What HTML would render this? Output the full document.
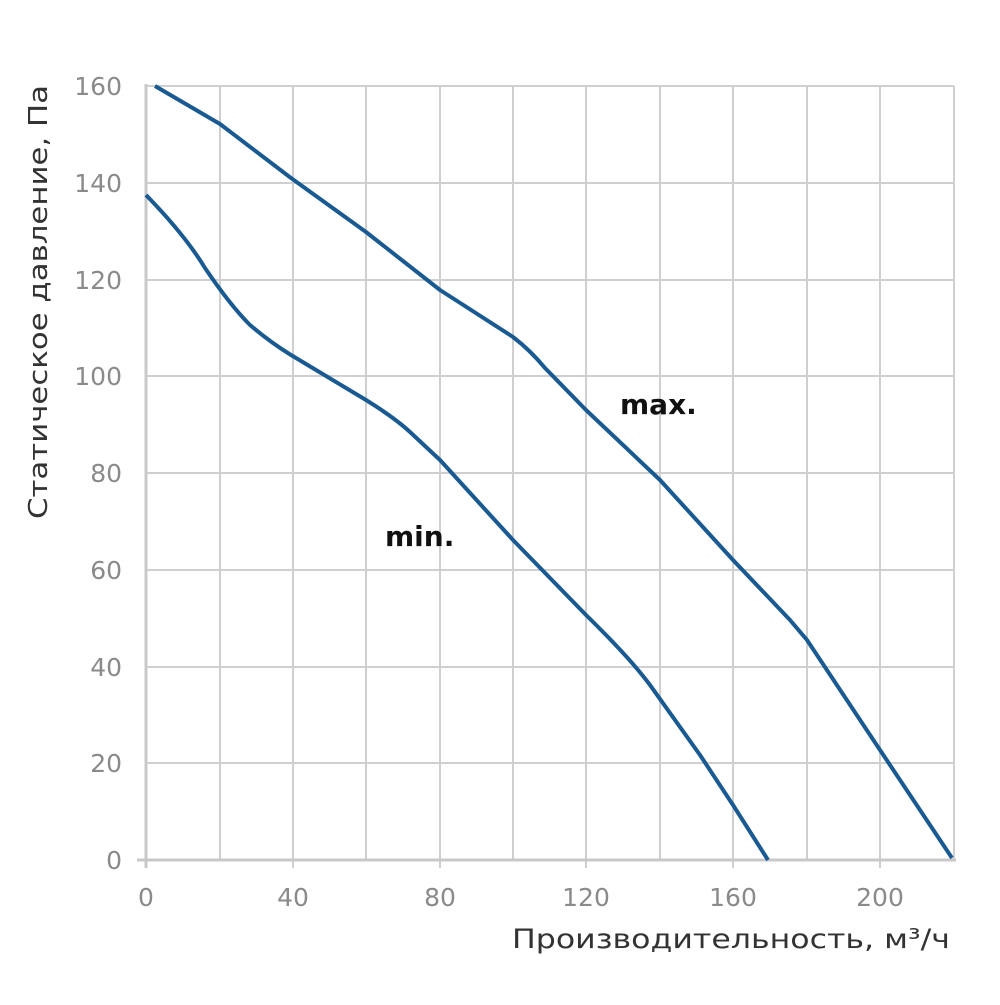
<!DOCTYPE html><html><head><style>body{margin:0;background:#fff}</style></head><body>
<svg width="1000" height="1000" xmlns="http://www.w3.org/2000/svg" font-family="DejaVu Sans, Liberation Sans, sans-serif">
<g stroke="#cfcfcf" stroke-width="2">
<line x1="220" y1="86" x2="220" y2="860"/><line x1="293" y1="86" x2="293" y2="868"/><line x1="366" y1="86" x2="366" y2="860"/><line x1="440" y1="86" x2="440" y2="868"/><line x1="513" y1="86" x2="513" y2="860"/><line x1="586" y1="86" x2="586" y2="868"/><line x1="660" y1="86" x2="660" y2="860"/><line x1="733" y1="86" x2="733" y2="868"/><line x1="807" y1="86" x2="807" y2="860"/><line x1="880" y1="86" x2="880" y2="868"/><line x1="954" y1="86" x2="954" y2="860"/>
<line x1="146" y1="86" x2="954" y2="86"/><line x1="146" y1="183" x2="954" y2="183"/><line x1="146" y1="280" x2="954" y2="280"/><line x1="146" y1="376" x2="954" y2="376"/><line x1="146" y1="473" x2="954" y2="473"/><line x1="146" y1="570" x2="954" y2="570"/><line x1="146" y1="667" x2="954" y2="667"/><line x1="146" y1="763" x2="954" y2="763"/>
</g>
<g stroke="#c8c8c8" stroke-width="3"><line x1="146" y1="84" x2="146" y2="868"/><line x1="137" y1="860" x2="956" y2="860"/></g>
<g fill="#8a8a8a" font-size="25" text-anchor="end">
<text x="122" y="95">160</text><text x="122" y="192">140</text><text x="122" y="289">120</text><text x="122" y="385">100</text><text x="122" y="482">80</text><text x="122" y="579">60</text><text x="122" y="676">40</text><text x="122" y="772">20</text><text x="122" y="869">0</text>
</g>
<g fill="#8a8a8a" font-size="25" text-anchor="middle">
<text x="146" y="906">0</text><text x="293" y="906">40</text><text x="440" y="906">80</text><text x="586" y="906">120</text><text x="733" y="906">160</text><text x="880" y="906">200</text>
</g>
<text transform="translate(47,302) rotate(-90)" text-anchor="middle" font-size="26" fill="#333" textLength="434" lengthAdjust="spacingAndGlyphs">Статическое давление, Па</text>
<text x="950" y="948" text-anchor="end" font-size="27" fill="#333" textLength="438" lengthAdjust="spacingAndGlyphs">Производительность, м³/ч</text>
<g fill="none" stroke="#1a5a92" stroke-width="4" stroke-linejoin="round">
<path d="M155,86 L220,124 L291,178 L366,232 L440,290 L513,337 Q530,350 545,368 L586,410 L660,480 L733,560 L790,620 L807,640 L880,750 L952,858"/>
<path d="M146,195 Q185,235 205,268 Q230,305 250,325 Q270,342 291,355 L366,400 Q395,418 410,432 L440,460 L513,540 L586,615 Q630,658 650,685 L700,755 L733,805 L768,860"/>
</g>
<text x="620" y="414" font-size="28" font-weight="bold" fill="#111">max.</text>
<text x="385" y="546" font-size="28" font-weight="bold" fill="#111">min.</text>
</svg>
</body></html>
